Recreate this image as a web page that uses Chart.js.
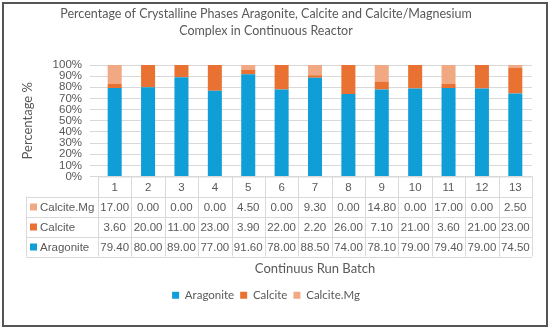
<!DOCTYPE html>
<html>
<head>
<meta charset="utf-8">
<script src="https://cdn.jsdelivr.net/npm/chart.js@4"></script>
<style>
  html, body { margin: 0; padding: 0; background: #fff; }
  canvas { display: block; }
</style>
</head>
<body>
<canvas id="myChart" width="550" height="329"></canvas>
<script>
var batches = ["1", "2", "3", "4", "5", "6", "7", "8", "9", "10", "11", "12", "13"];
var aragonite = [79.4, 80, 89, 77, 91.6, 78, 88.5, 74, 78.1, 79, 79.4, 79, 74.5];
var calcite = [3.6, 20, 11, 23, 3.9, 22, 2.2, 26, 7.1, 21, 3.6, 21, 23];
var calciteMg = [17, 0, 0, 0, 4.5, 0, 9.3, 0, 14.8, 0, 17, 0, 2.5];

var textColor = "#595959";
var gridColor = "#d9d9d9";
var fontName = "'Liberation Sans', Arial, sans-serif";
var titleFont = "Lato, 'Liberation Sans', sans-serif";

// draws the data table under the bars plus the outer frame
const tablePlugin = {
  id: "dataTable",
  beforeDraw(chart) {
    const c = chart.ctx;
    c.save();
    c.fillStyle = "#fff";
    c.fillRect(0, 0, chart.width, chart.height);
    c.restore();
  },
  afterDraw(chart) {
    const c = chart.ctx;
    const x = chart.scales.x;
    const area = chart.chartArea;
    const colW = (area.right - area.left) / batches.length;
    const top = area.bottom;
    const rowH = 20;
    const leftEdge = 26;
    const rows = [
      { name: "Calcite.Mg", vals: calciteMg, color: chart.data.datasets[2].backgroundColor },
      { name: "Calcite", vals: calcite, color: chart.data.datasets[1].backgroundColor },
      { name: "Aragonite", vals: aragonite, color: chart.data.datasets[0].backgroundColor },
    ];
    const bottom = top + rowH * 4;

    c.save();
    c.strokeStyle = gridColor;
    c.lineWidth = 1;
    c.beginPath();
    c.moveTo(area.left, top + 0.5);
    c.lineTo(area.right, top + 0.5);
    for (let r = 1; r <= 4; r++) {
      const y = Math.round(top + r * rowH) + 0.5;
      c.moveTo(leftEdge, y);
      c.lineTo(area.right, y);
    }
    for (let i = 0; i <= batches.length; i++) {
      const vx = Math.round(area.left + i * colW) + 0.5;
      c.moveTo(vx, top);
      c.lineTo(vx, bottom);
    }
    c.moveTo(leftEdge + 0.5, top + rowH);
    c.lineTo(leftEdge + 0.5, bottom);
    c.stroke();

    c.fillStyle = textColor;
    c.font = "11.5px " + fontName;
    c.textAlign = "center";
    c.textBaseline = "middle";
    batches.forEach((b, i) => {
      c.fillText(b, x.getPixelForValue(i), top + rowH / 2 + 1);
    });
    rows.forEach((row, r) => {
      const cy = top + rowH * (r + 1) + rowH / 2 + 1;
      c.textAlign = "center";
      c.fillStyle = textColor;
      row.vals.forEach((v, i) => {
        c.fillText(v.toFixed(2), x.getPixelForValue(i), cy);
      });
      c.fillStyle = row.color;
      c.fillRect(leftEdge + 4, cy - 4, 7, 7);
      c.fillStyle = textColor;
      c.textAlign = "left";
      c.fillText(row.name, leftEdge + 14, cy);
    });

    c.strokeStyle = "#555";
    c.lineWidth = 2;
    c.strokeRect(3, 3, chart.width - 6, chart.height - 6);
    c.restore();
  },
};

const ctx = document.getElementById("myChart");
const myChart = new Chart(ctx, {
  type: "bar",
  data: {
    labels: batches,
    datasets: [
      { label: "Aragonite", data: aragonite, backgroundColor: "#0F9ED5" },
      { label: "Calcite", data: calcite, backgroundColor: "#E97132" },
      { label: "Calcite.Mg", data: calciteMg, backgroundColor: "#F1A983" },
    ],
  },
  options: {
    responsive: false,
    animation: false,
    layout: { padding: { left: 0, right: 18, top: 0, bottom: 18 } },
    datasets: { bar: { barPercentage: 0.42, categoryPercentage: 1 } },
    scales: {
      x: {
        stacked: true,
        grid: { display: false },
        border: { display: false },
        ticks: { display: false },
        title: {
          display: true,
          text: "Continuus Run Batch",
          color: textColor,
          font: { family: titleFont, size: 13 },
          padding: { top: 0, bottom: 7 },
        },
        afterFit(scale) { scale.height = 107; },
      },
      y: {
        stacked: true,
        min: 0,
        max: 100,
        grid: { color: gridColor },
        border: { display: false },
        ticks: {
          stepSize: 10,
          autoSkip: false,
          color: textColor,
          font: { family: fontName, size: 11.5 },
          padding: 8,
          callback: (v) => v + "%",
        },
        title: {
          display: true,
          text: "Percentage %",
          color: textColor,
          font: { family: titleFont, size: 13 },
          padding: { top: 20, bottom: 0 },
        },
        afterFit(scale) { scale.width = 98; },
      },
    },
    plugins: {
      title: {
        display: true,
        text: [
          "Percentage of Crystalline Phases Aragonite, Calcite and Calcite/Magnesium",
          "Complex in Continuous Reactor",
        ],
        color: textColor,
        font: { family: titleFont, size: 12.5, weight: "normal", lineHeight: 1.4 },
        padding: { top: 5, bottom: 25 },
      },
      legend: {
        position: "bottom",
        labels: {
          boxWidth: 7,
          boxHeight: 7,
          padding: 6,
          color: textColor,
          font: { family: titleFont, size: 11.5 },
        },
      },
      tooltip: { enabled: false },
    },
  },
  plugins: [tablePlugin],
});
</script>
</body>
</html>
